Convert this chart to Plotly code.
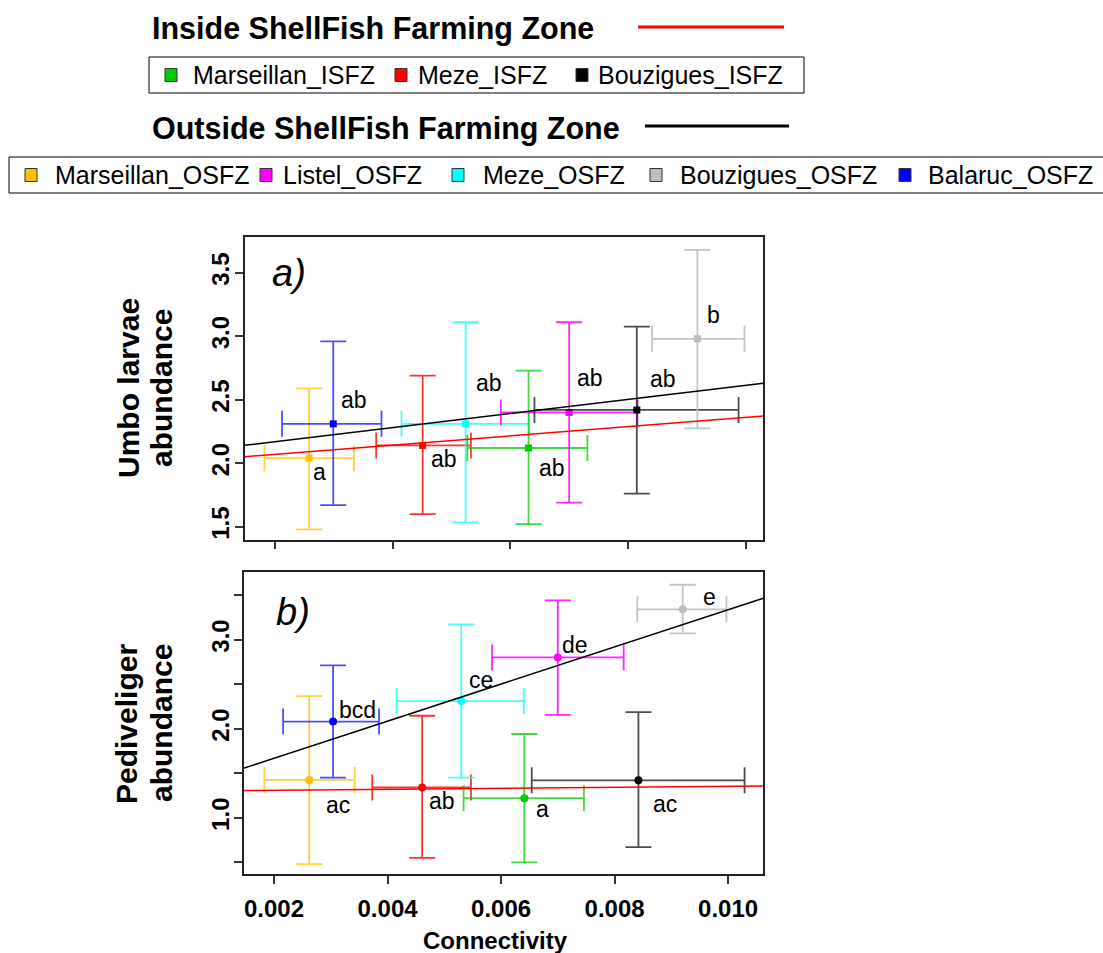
import plotly.graph_objects as go

# ---------------- data ----------------
sites = ["Marseillan_OSFZ", "Balaruc_OSFZ", "Meze_ISFZ", "Meze_OSFZ",
         "Marseillan_ISFZ", "Listel_OSFZ", "Bouzigues_ISFZ", "Bouzigues_OSFZ"]
site_colors = ["#FFC000", "#0000FF", "#FF0000", "#00FFFF",
               "#00CD00", "#FF00FF", "#000000", "#BEBEBE"]
err_colors = ["rgba(255,192,0,0.75)", "rgba(0,0,255,0.7)", "rgba(255,0,0,0.8)",
              "rgba(0,255,255,0.75)", "rgba(0,205,0,0.75)", "rgba(255,0,255,0.85)",
              "rgba(0,0,0,0.7)", "rgba(190,190,190,0.9)"]

# panel a) Umbo larvae
conn_a = [0.00258, 0.00299, 0.00451, 0.00524, 0.00631, 0.00700, 0.00815, 0.00918]
conn_a_lo = [0.00182, 0.00212, 0.00372, 0.00415, 0.00527, 0.00584, 0.00641, 0.00841]
conn_a_hi = [0.00334, 0.00381, 0.00533, 0.00632, 0.00731, 0.00816, 0.00988, 0.00998]
umbo = [2.04, 2.31, 2.14, 2.31, 2.12, 2.40, 2.42, 2.98]
umbo_lo = [1.48, 1.67, 1.60, 1.535, 1.52, 1.69, 1.76, 2.275]
umbo_hi = [2.59, 2.96, 2.69, 3.11, 2.73, 3.11, 3.075, 3.68]
letters_a = ["a", "ab", "ab", "ab", "ab", "ab", "ab", "b"]

# panel b) Pediveliger
conn_b = [0.00262, 0.00304, 0.00461, 0.00530, 0.00641, 0.00700, 0.00842, 0.00920]
conn_b_lo = [0.00183, 0.00216, 0.00373, 0.00416, 0.00534, 0.00584, 0.00654, 0.00840]
conn_b_hi = [0.00342, 0.00385, 0.00547, 0.00640, 0.00746, 0.00816, 0.01029, 0.00997]
pedi = [1.425, 2.08, 1.34, 2.31, 1.22, 2.80, 1.42, 3.34]
pedi_lo = [0.48, 1.45, 0.55, 1.45, 0.50, 2.155, 0.67, 3.07]
pedi_hi = [2.365, 2.71, 2.145, 3.17, 1.94, 3.44, 2.185, 3.615]
letters_b = ["ac", "bcd", "ab", "ce", "a", "de", "ac", "e"]

# regression lines (intercept, slope)
fit_a_isfz = (1.997, 36.4)
fit_a_osfz = (2.059, 55.4)
fit_b_isfz = (1.298, 5.6)
fit_b_osfz = (1.251, 208.3)

x_ticks = [0.002, 0.004, 0.006, 0.008, 0.010]
x_ticktext = ["0.002", "0.004", "0.006", "0.008", "0.010"]
ya_ticks = [1.5, 2.0, 2.5, 3.0, 3.5]
ya_ticktext = ["1.5", "2.0", "2.5", "3.0", "3.5"]
yb_ticks = [0.5, 1.0, 1.5, 2.0, 2.5, 3.0, 3.5]
yb_ticktext = ["", "1.0", "", "2.0", "", "3.0", ""]

isfz_legend = ["Marseillan_ISFZ", "Meze_ISFZ", "Bouzigues_ISFZ"]
isfz_legend_colors = ["#00CD00", "#FF0000", "#000000"]
osfz_legend = ["Marseillan_OSFZ", "Listel_OSFZ", "Meze_OSFZ", "Bouzigues_OSFZ", "Balaruc_OSFZ"]
osfz_legend_colors = ["#FFC000", "#FF00FF", "#00FFFF", "#BEBEBE", "#0000FF"]

# ---------------- layout helpers ----------------
W, H = 1103, 953
FONT = "Liberation Sans, Arial, sans-serif"
def px(x):
    return x / W
def py(y):
    return 1 - y / H

xr_a = [0.001485, 0.0103]
xr_b = [0.001471, 0.01062]
yr_a = [1.398, 3.779]
yr_b = [0.369, 3.755]

# label offsets in pixels (dx right, dy down)
off_a = [(10, 14), (21, -24), (21, 14), (23, -41), (23, 20), (21, -34), (26, -31), (16, -24)]
off_b = [(29, 25), (24, -12), (20, 14), (20, -21), (18, 11), (17, -12), (27, 24), (27, -12)]

fig = go.Figure()

def add_panel(xs, xlo, xhi, ys, ylo, yhi, xa, ya, symbol, size):
    for i, s in enumerate(sites):
        fig.add_trace(go.Scatter(
            x=[xs[i]], y=[ys[i]], mode="markers", name=s, showlegend=False,
            xaxis=xa, yaxis=ya,
            marker=dict(color=site_colors[i], size=size, symbol=symbol),
            error_x=dict(type="data", symmetric=False,
                         array=[xhi[i] - xs[i]], arrayminus=[xs[i] - xlo[i]],
                         color=err_colors[i], thickness=1.8, width=13),
            error_y=dict(type="data", symmetric=False,
                         array=[yhi[i] - ys[i]], arrayminus=[ys[i] - ylo[i]],
                         color=err_colors[i], thickness=1.8, width=13),
        ))

def add_fit(fit, xr, color, xa, ya):
    b0, b1 = fit
    fig.add_trace(go.Scatter(x=xr, y=[b0 + b1 * xr[0], b0 + b1 * xr[1]], mode="lines",
                             line=dict(color=color, width=1.5), showlegend=False,
                             xaxis=xa, yaxis=ya, hoverinfo="skip"))

add_panel(conn_a, conn_a_lo, conn_a_hi, umbo, umbo_lo, umbo_hi, "x", "y", "square", 7)
add_fit(fit_a_isfz, xr_a, "#FF0000", "x", "y")
add_fit(fit_a_osfz, xr_a, "#000000", "x", "y")
add_panel(conn_b, conn_b_lo, conn_b_hi, pedi, pedi_lo, pedi_hi, "x2", "y2", "circle", 8)
add_fit(fit_b_isfz, xr_b, "#FF0000", "x2", "y2")
add_fit(fit_b_osfz, xr_b, "#000000", "x2", "y2")

annotations = []
for i in range(len(sites)):
    annotations.append(dict(x=conn_a[i], y=umbo[i], xref="x", yref="y", text=letters_a[i],
                            showarrow=False, xshift=off_a[i][0], yshift=-off_a[i][1],
                            font=dict(family=FONT, size=23, color="black")))
    annotations.append(dict(x=conn_b[i], y=pedi[i], xref="x2", yref="y2", text=letters_b[i],
                            showarrow=False, xshift=off_b[i][0], yshift=-off_b[i][1],
                            font=dict(family=FONT, size=23, color="black")))

def ann(x, y, text, size, bold=False, italic=False, xanchor="center", angle=0):
    t = text
    if bold:
        t = "<b>" + t + "</b>"
    if italic:
        t = "<i>" + t + "</i>"
    annotations.append(dict(x=px(x), y=py(y), xref="paper", yref="paper", text=t,
                            showarrow=False, xanchor=xanchor, yanchor="middle",
                            textangle=angle, font=dict(family=FONT, size=size, color="black")))

ann(289, 273, "a)", 38, italic=True)
ann(293, 612, "b)", 38, italic=True)
ann(128, 388, "Umbo larvae", 30, bold=True, angle=-90)
ann(161, 388, "abundance", 30, bold=True, angle=-90)
ann(126, 724, "Pediveliger", 30, bold=True, angle=-90)
ann(161, 723, "abundance", 30, bold=True, angle=-90)
ann(495, 940, "Connectivity", 24, bold=True)

# top legend
ann(150, 28, "Inside ShellFish Farming Zone", 30.5, bold=True, xanchor="left")
ann(150, 129, "Outside ShellFish Farming Zone", 30.5, bold=True, xanchor="left")
shapes = []
shapes.append(dict(type="line", xref="paper", yref="paper", x0=px(638), x1=px(784),
                   y0=py(27), y1=py(27), line=dict(color="#FF0000", width=3)))
shapes.append(dict(type="line", xref="paper", yref="paper", x0=px(645), x1=px(789),
                   y0=py(126), y1=py(126), line=dict(color="#000000", width=3)))
shapes.append(dict(type="rect", xref="paper", yref="paper", x0=px(149), x1=px(804),
                   y0=py(93), y1=py(57), line=dict(color="black", width=1)))
shapes.append(dict(type="rect", xref="paper", yref="paper", x0=px(9), x1=px(1120),
                   y0=py(193), y1=py(157), line=dict(color="black", width=1)))

isfz_sq = [171, 401, 582]
isfz_tx = [191, 416, 596]
for i, lab in enumerate(isfz_legend):
    shapes.append(dict(type="rect", xref="paper", yref="paper",
                       x0=px(isfz_sq[i] - 6), x1=px(isfz_sq[i] + 6), y0=py(81.5), y1=py(68.5),
                       fillcolor=isfz_legend_colors[i], line=dict(color="#333", width=1)))
    ann(isfz_tx[i], 75, lab, 25, xanchor="left")
osfz_sq = [31, 266, 458, 656, 905]
osfz_tx = [53, 281, 481, 678, 926]
for i, lab in enumerate(osfz_legend):
    shapes.append(dict(type="rect", xref="paper", yref="paper",
                       x0=px(osfz_sq[i] - 6), x1=px(osfz_sq[i] + 6), y0=py(181.5), y1=py(168.5),
                       fillcolor=osfz_legend_colors[i], line=dict(color="#333", width=1)))
    ann(osfz_tx[i], 175, lab, 25, xanchor="left")

axis_common = dict(showgrid=False, zeroline=False, showline=True, mirror=True,
                   linecolor="#222", linewidth=1.5, ticks="outside", ticklen=8,
                   tickwidth=1.5, tickcolor="#333")
tickfont = dict(family=FONT, size=24, color="black", weight="bold")

fig.update_layout(
    width=W, height=H, autosize=False,
    margin=dict(l=0, r=0, t=0, b=0),
    paper_bgcolor="white", plot_bgcolor="white",
    showlegend=False,
    xaxis=dict(domain=[px(244.7), px(763.3)], range=xr_a, anchor="y",
               tickvals=x_ticks, showticklabels=False, **axis_common),
    yaxis=dict(domain=[py(539.7), py(237.3)], range=yr_a, anchor="x",
               tickvals=ya_ticks, ticktext=ya_ticktext, tickangle=-90,
               tickfont=tickfont, ticklabelstandoff=-4, **axis_common),
    xaxis2=dict(domain=[px(244), px(763.3)], range=xr_b, anchor="y2",
                tickvals=x_ticks, ticktext=x_ticktext, ticklabelstandoff=4,
                tickfont=dict(family=FONT, size=24, color="black", weight="bold"),
                **axis_common),
    yaxis2=dict(domain=[py(874), py(572.3)], range=yr_b, anchor="x2",
                tickvals=yb_ticks, ticktext=yb_ticktext, tickangle=-90,
                tickfont=tickfont, ticklabelstandoff=-4, **axis_common),
    annotations=annotations,
    shapes=shapes,
)

fig.write_html("out.html", config={"displayModeBar": False},
               post_script="document.body.style.margin='0';document.body.style.overflow='hidden';")
